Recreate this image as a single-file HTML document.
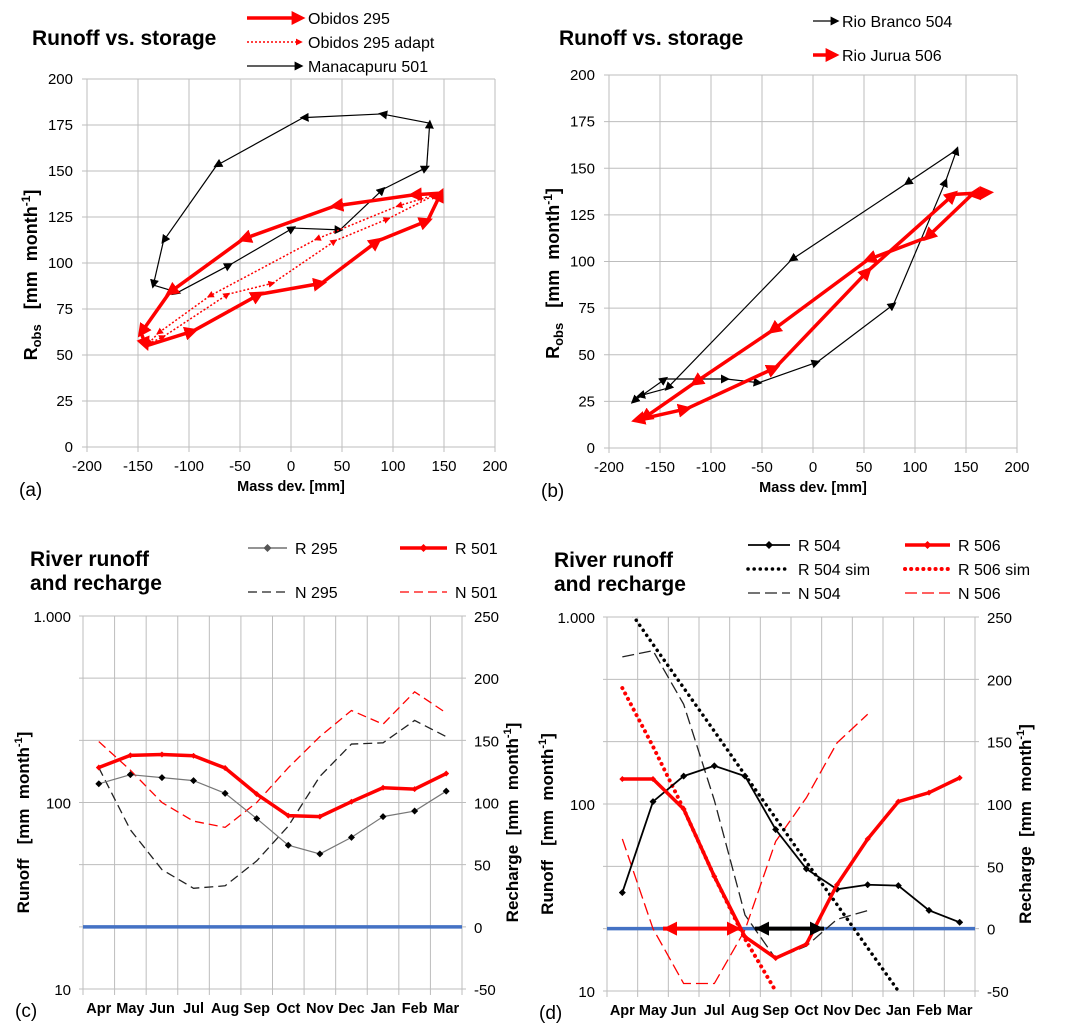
<!DOCTYPE html>
<html><head><meta charset="utf-8"><style>
body{margin:0;background:#fff}
svg{display:block;font-family:"Liberation Sans",Arial,sans-serif}
</style></head><body>
<svg id="s" width="1067" height="1034" viewBox="0 0 1067 1034">
<defs>
<marker id="ak" viewBox="0 0 10 10" refX="6" refY="5" markerWidth="9" markerHeight="9" markerUnits="userSpaceOnUse" orient="auto"><path d="M0,0L10,5L0,10z" fill="#000"/></marker>
<marker id="ar" viewBox="0 0 10 10" refX="6" refY="5" markerWidth="14" markerHeight="14" markerUnits="userSpaceOnUse" orient="auto"><path d="M0,0L10,5L0,10z" fill="#f00"/></marker>
<marker id="ars" viewBox="0 0 10 10" refX="6" refY="5" markerWidth="7" markerHeight="7" markerUnits="userSpaceOnUse" orient="auto"><path d="M0,0L10,5L0,10z" fill="#f00"/></marker>
<marker id="dk" viewBox="0 0 10 10" refX="5" refY="5" markerWidth="7" markerHeight="7" markerUnits="userSpaceOnUse"><path d="M5,0L10,5L5,10L0,5z" fill="#000"/></marker>
<marker id="dr" viewBox="0 0 10 10" refX="5" refY="5" markerWidth="6" markerHeight="6" markerUnits="userSpaceOnUse"><path d="M5,0L10,5L5,10L0,5z" fill="#f00"/></marker>
<marker id="hr" viewBox="0 0 10 10" refX="10" refY="5" markerWidth="16" markerHeight="14" markerUnits="userSpaceOnUse" orient="auto-start-reverse"><path d="M0,0L10,5L0,10z" fill="#f00"/></marker>
<marker id="hk" viewBox="0 0 10 10" refX="10" refY="5" markerWidth="16" markerHeight="14" markerUnits="userSpaceOnUse" orient="auto-start-reverse"><path d="M0,0L10,5L0,10z" fill="#000"/></marker>
</defs>
<g id="a"></g>
<g id="b"></g>
<g id="c"></g>
<g id="d"></g>
</svg>
<script>
// Panel (a) data
const a501X=[-111,-60,2,48,90,133,136,89,12,-73,-125,-135];
const a501Y=[84,99,119,118,140,152,176,181,179,153,112,88];
const a295X=[-142,-96,-31,30,85,134,147,120,43,-47,-119,-147];
const a295Y=[55,63,83,89,112,123,138,137,131,113,84,62];
const a295adX=[-140,-125,-62,-18,43,95,141,105,25,-80,-130];
const a295adY=[56,60,83,89,112,124,137,131,113,82,62];
// Panel (b) data
const b504X=[4,79,130,141,92,-21,-143,-170,-176,-145,-85,-53];
const b504Y=[46,77,143,160,142,101,32,28,25,37,37,35];
const b506X=[-173,-124,-37,54,138,172,156,112,54,-40,-116,-166];
const b506Y=[15,21,43,95,136,137,136,113,101,63,35,16];
const scatterTicksX=[-200,-150,-100,-50,0,50,100,150,200];
const scatterTicksY=[0,25,50,75,100,125,150,175,200];
// Panels (c),(d)
const months=["Apr","May","Jun","Jul","Aug","Sep","Oct","Nov","Dec","Jan","Feb","Mar"];
const cR295=[126,141,136,131,112,82,59,53,65,84,90,115];
const cR501=[154,179,181,178,153,111,85,84,101,120,118,143];
const cN295=[128,78,46,31,33,53,81,121,147,148,166,153];
const cN501=[149,126,100,85,80,100,128,153,174,163,189,172];
const dR504=[33.6,103,141,160,141,73,45,35,37,36.6,27,23.3];
const dR506=[136,136,94,41,19.5,15,17.8,37,65,103,115,138];
const dR504sim=[1230,714,418,245,143,84,49,29,17,10];
const dR506sim=[417,203,94,41,19,10];
const dN504=[218,223,180,103,11,-24,-14,7.5,14.5];
const dN506=[72,0,-44,-44,-1,70,105,149,172];
const logTicks=[10,100,1000];
const logLabels=["10","100","1.000"];
const rechTicks=[-50,0,50,100,150,200,250];

const NS="http://www.w3.org/2000/svg";
function mk(parent,tag,attrs,txt){const e=document.createElementNS(NS,tag);for(const k in attrs)e.setAttribute(k,attrs[k]);if(txt!==undefined)e.textContent=txt;parent.appendChild(e);return e;}

function scatterPanel(g,L,R,T,B,letter,title,titleX){
  const sx=v=>L+(v+200)/400*(R-L), sy=v=>B-v/200*(B-T);
  scatterTicksX.forEach(v=>{const l=mk(g,"line",{x1:sx(v),x2:sx(v),y1:T,y2:B+5,stroke:"#bdbdbd","stroke-width":1});
    
    
    const t=mk(g,"text",{x:sx(v),y:B+24,"text-anchor":"middle","font-size":15},String(v));
    
    });
  scatterTicksY.forEach(v=>{const l=mk(g,"line",{x1:L-5,x2:R,y1:sy(v),y2:sy(v),stroke:"#bdbdbd","stroke-width":1});
    
    
    const t=mk(g,"text",{x:L-14,y:sy(v)+5,"text-anchor":"end","font-size":15},String(v));
    
    });
  const t1=mk(g,"text",{x:(L+R)/2,y:B+44,"text-anchor":"middle","font-size":14.5,"font-weight":"bold"},"Mass dev.  [mm]");
  
  
  const yl=mk(g,"text",{transform:`translate(${L-50},${(T+B)/2+12}) rotate(-90)`,"text-anchor":"middle","font-size":18,"font-weight":"bold"});
  
  
  yl.innerHTML='R<tspan font-size="13" dy="4">obs</tspan><tspan dy="-4" xml:space="preserve">   [mm  month</tspan><tspan font-size="12" dy="-7">-1</tspan><tspan dy="7">]</tspan>';
  const lt=mk(g,"text",{x:L-68,y:B+49,"font-size":19},letter);
  
  
  const tt=mk(g,"text",{x:titleX,y:45,"font-size":21,"font-weight":"bold"},title);
  
  
  return {sx,sy};
}
function loop(g,sx,sy,X,Y,color,w,marker,dash,name,closed){
  const n=X.length, m=closed?n:n-1;
  for(let i=0;i<m;i++){const j=(i+1)%n;
    const l=mk(g,"line",{x1:sx(X[i]),y1:sy(Y[i]),x2:sx(X[j]),y2:sy(Y[j]),stroke:color,"stroke-width":w,"marker-end":`url(#${marker})`});
    if(dash)l.setAttribute("stroke-dasharray",dash);
    
    }
}
function legendArrow(g,x1,x2,y,color,w,marker,dash,label,tx){
  const l=mk(g,"line",{x1,x2,y1:y,y2:y,stroke:color,"stroke-width":w,"marker-end":`url(#${marker})`});
  if(dash)l.setAttribute("stroke-dasharray",dash);
  
  
  const t=mk(g,"text",{x:tx,y:y+6,"font-size":16,"xml:space":"preserve"},label);
  
  
}

// ---- (a)
const ga=document.getElementById("a");
let p=scatterPanel(ga,87,495,79,447,"(a)","Runoff vs. storage",32);
loop(ga,p.sx,p.sy,a501X,a501Y,"#000",1.2,"ak",null,"series-manacapuru-501",true);
loop(ga,p.sx,p.sy,a295adX,a295adY,"#f00",1.5,"ars","2,2","series-obidos-295-adapt",true);
loop(ga,p.sx,p.sy,a295X,a295Y,"#f00",3.5,"ar",null,"series-obidos-295",true);
legendArrow(ga,247,300,18,"#f00",3.5,"ar",null,"Obidos 295",308);
legendArrow(ga,247,300,42,"#f00",1.5,"ars","2,2","Obidos 295 adapt",308);
legendArrow(ga,247,300,66,"#000",1.2,"ak",null,"Manacapuru 501",308);
// ---- (b)
const gb=document.getElementById("b");
p=scatterPanel(gb,609,1017,75,448,"(b)","Runoff vs. storage",559);
loop(gb,p.sx,p.sy,b504X,b504Y,"#000",1.2,"ak",null,"series-rio-branco-504",true);
loop(gb,p.sx,p.sy,b506X,b506Y,"#f00",3.5,"ar",null,"series-rio-jurua-506",true);
legendArrow(gb,813,836,21,"#000",1.2,"ak",null,"Rio Branco  504",842);
legendArrow(gb,813,834,55,"#f00",3.5,"ar",null,"Rio Jurua   506",842);

// ---- time panels
function timePanel(g,L,R,T,B,letter){
  const cw=(R-L)/12;
  const cx=i=>L+cw*(i+0.5);
  const ly=v=>B-(Math.log10(v)-1)/2*(B-T);
  const ry=v=>B-(v+50)/300*(B-T);
  for(let i=0;i<=12;i++){const l=mk(g,"line",{x1:L+cw*i,x2:L+cw*i,y1:T,y2:B+6,stroke:"#bdbdbd"});
    
    }
  rechTicks.forEach(v=>{const l=mk(g,"line",{x1:L-4,x2:R+4,y1:ry(v),y2:ry(v),stroke:"#bdbdbd"});
    
    
    const t=mk(g,"text",{x:R+12,y:ry(v)+6,"font-size":15},String(v));
    
    });
  logTicks.forEach((v,i)=>{const t=mk(g,"text",{x:L-12,y:ly(v)+6,"text-anchor":"end","font-size":15},logLabels[i]);
    
    });
  months.forEach((m,i)=>{const t=mk(g,"text",{x:cx(i),y:B+24,"text-anchor":"middle","font-size":14.5,"font-weight":"bold"},m);
    
    });
  const lt=mk(g,"text",{x:L-68,y:B+28,"font-size":19},letter);
  
  
  const yl=mk(g,"text",{transform:`translate(${L-54},${(T+B)/2+20}) rotate(-90)`,"text-anchor":"middle","font-size":17,"font-weight":"bold"});
  
  
  yl.innerHTML='<tspan xml:space="preserve">Runoff   [mm  month</tspan><tspan font-size="11" dy="-7">-1</tspan><tspan dy="7">]</tspan>';
  const yr=mk(g,"text",{transform:`translate(${R+56},${(T+B)/2+20}) rotate(-90)`,"text-anchor":"middle","font-size":17,"font-weight":"bold"});
  
  
  yr.innerHTML='<tspan xml:space="preserve">Recharge  [mm  month</tspan><tspan font-size="11" dy="-7">-1</tspan><tspan dy="7">]</tspan>';
  const z=mk(g,"line",{x1:L,x2:R,y1:ry(0),y2:ry(0),stroke:"#4472c4","stroke-width":3.5});
  
  
  const tt=mk(g,"text",{x:L-53,y:T-50,"font-size":21,"font-weight":"bold"},"River runoff");
  
  
  const tt2=mk(g,"text",{x:L-53,y:T-26,"font-size":21,"font-weight":"bold"},"and recharge");
  
  
  return {cx,ly,ry,L,R,T,B};
}
function series(g,P,vals,scale,color,w,dash,marker,name){
  const pts=vals.map((v,i)=>P.cx(i)+","+scale(v)).join(" ");
  const l=mk(g,"polyline",{points:pts,fill:"none",stroke:color,"stroke-width":w,"clip-path":"url(#"+P.clip+")"});
  if(dash)l.setAttribute("stroke-dasharray",dash);
  if(marker){l.setAttribute("marker-start",`url(#${marker})`);l.setAttribute("marker-mid",`url(#${marker})`);l.setAttribute("marker-end",`url(#${marker})`);}
  if(dash==="0.1,6")l.setAttribute("stroke-linecap","round");
  
  
}
function clipFor(id,P){const defs=document.querySelector("defs");const c=mk(defs,"clipPath",{id});mk(c,"rect",{x:P.L,y:P.T,width:P.R-P.L,height:P.B-P.T});P.clip=id;}
function legLine(g,x1,x2,y,color,w,dash,marker,label){
  const l=mk(g,"line",{x1,x2,y1:y,y2:y,stroke:color,"stroke-width":w});
  if(dash)l.setAttribute("stroke-dasharray",dash);
  if(dash==="0.1,6")l.setAttribute("stroke-linecap","round");
  
  
  if(marker){const m=mk(g,"path",{d:`M${(x1+x2)/2},${y-4}l4,4l-4,4l-4,-4z`,fill:color});
    
    }
  const t=mk(g,"text",{x:x2+8,y:y+6,"font-size":16},label);
  
  
}
// (c)
const gc=document.getElementById("c");
let P=timePanel(gc,83,462,616,989,"(c)");clipFor("clc",P);
series(gc,P,cN295,P.ry,"#222",1.3,"9,5",null,"series-n295");
series(gc,P,cN501,P.ry,"#f00",1.3,"9,5",null,"series-n501");
series(gc,P,cR295,P.ly,"#777",1.2,null,"dk","series-r295");
series(gc,P,cR501,P.ly,"#f00",3.5,null,"dr","series-r501");
legLine(gc,248,287,548,"#555",1.2,null,true,"R 295");
legLine(gc,400,447,548,"#f00",3.5,null,true,"R 501");
legLine(gc,248,287,592,"#222",1.3,"9,5",false,"N 295");
legLine(gc,400,447,592,"#f00",1.3,"9,5",false,"N 501");
// (d)
const gd=document.getElementById("d");
P=timePanel(gd,607,975,617,991,"(d)");clipFor("cld",P);
series(gd,P,dN504,P.ry,"#222",1.3,"12,5",null,"series-n504");
series(gd,P,dN506,P.ry,"#f00",1.3,"12,5",null,"series-n506");
series(gd,P,dR504sim,P.ly,"#000",3.5,"0.1,6",null,"series-r504-sim");
series(gd,P,dR506sim,P.ly,"#f00",4,"0.1,6",null,"series-r506-sim");
series(gd,P,dR504,P.ly,"#000",1.8,null,"dk","series-r504");
series(gd,P,dR506,P.ly,"#f00",3.5,null,"dr","series-r506");
const y0=P.ry(0);
const ra=mk(gd,"line",{x1:663,x2:741,y1:y0,y2:y0,stroke:"#f00","stroke-width":4,"marker-start":"url(#hr)","marker-end":"url(#hr)"});


const ka=mk(gd,"line",{x1:755,x2:824,y1:y0,y2:y0,stroke:"#000","stroke-width":4,"marker-start":"url(#hk)","marker-end":"url(#hk)"});


legLine(gd,748,790,545,"#000",1.8,null,true,"R 504");
legLine(gd,905,950,545,"#f00",3.5,null,true,"R 506");
legLine(gd,748,790,569,"#000",3.5,"0.1,6",false,"R 504 sim");
legLine(gd,905,950,569,"#f00",4,"0.1,6",false,"R 506 sim");
legLine(gd,748,790,593,"#222",1.3,"12,5",false,"N 504");
legLine(gd,905,950,593,"#f00",1.3,"12,5",false,"N 506");
</script>
</body></html>
